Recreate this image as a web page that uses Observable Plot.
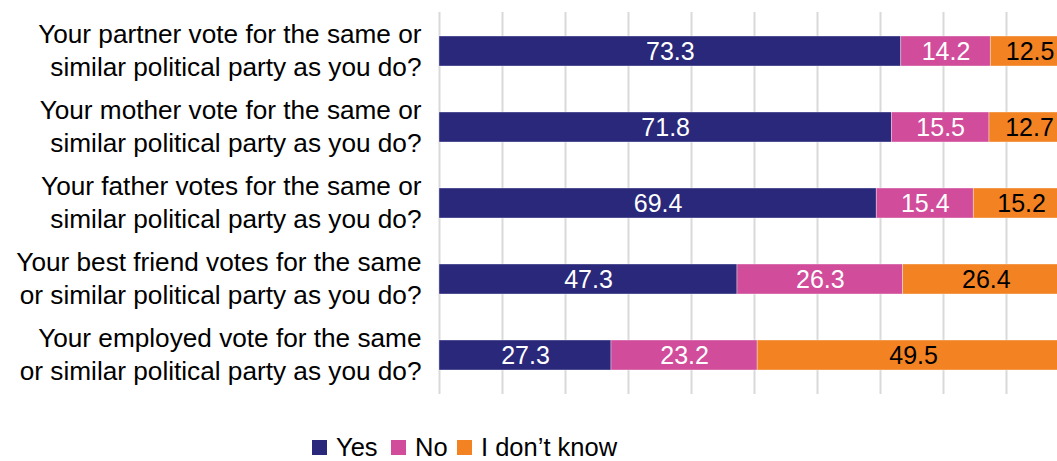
<!DOCTYPE html>
<html>
<head>
<meta charset="utf-8">
<script src="https://cdn.jsdelivr.net/npm/d3@7"></script>
<script src="https://cdn.jsdelivr.net/npm/@observablehq/plot@0.6"></script>
<style>
  html, body { margin: 0; padding: 0; background: #fff; overflow: hidden; }
  body { width: 1057px; height: 461px; font-family: "Liberation Sans", Arial, sans-serif; }
  #wrap { position: relative; width: 1057px; height: 461px; overflow: hidden; }
  #chart { position: absolute; left: 0; top: 0; width: 1070px; }
  #chart svg { max-width: none !important; }
  #legend { position: absolute; left: 0; top: 433px; width: 1057px; height: 28px; font-size: 25.5px; line-height: 28px; color: #000; }
  #legend .item { position: absolute; top: 0; height: 28px; display: flex; align-items: center; white-space: nowrap; }
  #legend .sw { width: 15px; height: 15px; margin-right: 9px; flex: none; }
</style>
</head>
<body>
<div id="wrap"><div id="chart"></div><div id="legend"></div></div>
<script>
const categories = [
  "Your partner vote for the same or\nsimilar political party as you do?",
  "Your mother vote for the same or\nsimilar political party as you do?",
  "Your father votes for the same or\nsimilar political party as you do?",
  "Your best friend votes for the same\nor similar political party as you do?",
  "Your employed vote for the same\nor similar political party as you do?"
];
const responses = ["Yes", "No", "I don\u2019t know"];
const colors = ["#29287A", "#D14D9C", "#F28222"];
const yesValues = [73.3, 71.8, 69.4, 47.3, 27.3];
const noValues = [14.2, 15.5, 15.4, 26.3, 23.2];
const dontKnowValues = [12.5, 12.7, 15.2, 26.4, 49.5];
const xTicks = [0, 10, 20, 30, 40, 50, 60, 70, 80, 90, 100];

const seriesValues = [yesValues, noValues, dontKnowValues];
const data = [];
categories.forEach((c, i) => {
  responses.forEach((r, j) => data.push({cat: c, resp: r, value: seriesValues[j][i]}));
});

const font = "'Liberation Sans', Arial, sans-serif";
const stackOpts = {x: "value", y: "cat", z: "resp", order: responses};
const lightText = d => d.resp !== responses[2] ? d.value.toFixed(1) : "";
const darkText = d => d.resp === responses[2] ? d.value.toFixed(1) : "";

const plot = Plot.plot({
  width: 1070,
  height: 405,
  marginLeft: 439,
  marginRight: 1,
  marginTop: 12,
  marginBottom: 11,
  style: {fontFamily: font, background: "transparent", maxWidth: "none"},
  x: {domain: [0, 100], axis: null},
  y: {domain: categories, paddingInner: 0.6, paddingOuter: 0.3, axis: null},
  color: {domain: responses, range: colors},
  marks: [
    Plot.gridX(xTicks, {stroke: "#d9d9d9", strokeOpacity: 1, strokeWidth: 2}),
    Plot.barX(data, Plot.stackX({...stackOpts, fill: "resp", stroke: "#ffffff", strokeWidth: 0.6, strokeOpacity: 0.6})),
    Plot.text(data, Plot.stackX({...stackOpts, text: lightText, fill: "white", fontSize: 25})),
    Plot.text(data, Plot.stackX({...stackOpts, text: darkText, fill: "black", fontSize: 25})),
    Plot.axisY({tickSize: 0, tickPadding: 18, fontSize: 26.2, lineHeight: 1.26, fill: "black", label: null, textAnchor: "end", dy: -3})
  ]
});
document.getElementById("chart").appendChild(plot);

const legendX = [312, 391, 457];
const legend = document.getElementById("legend");
responses.forEach((r, i) => {
  const item = document.createElement("div");
  item.className = "item";
  item.style.left = legendX[i] + "px";
  const sw = document.createElement("div");
  sw.className = "sw";
  sw.style.background = colors[i];
  const t = document.createElement("span");
  t.textContent = r;
  item.appendChild(sw);
  item.appendChild(t);
  legend.appendChild(item);
});
</script>
</body>
</html>
